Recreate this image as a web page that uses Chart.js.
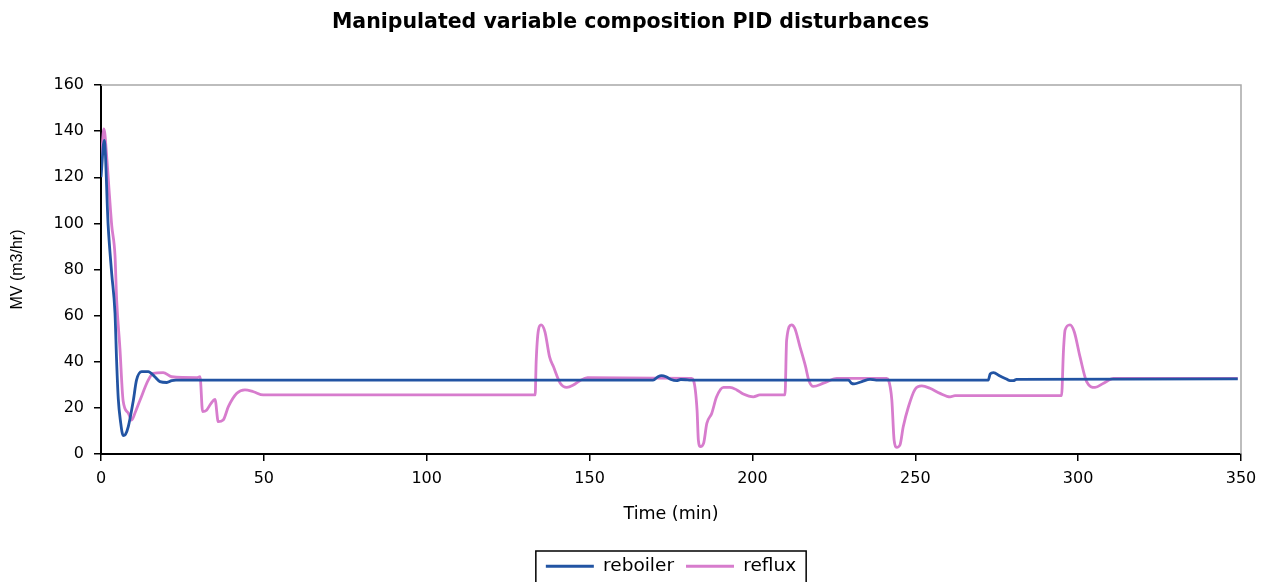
<!DOCTYPE html>
<html>
<head>
<meta charset="utf-8">
<title>Manipulated variable composition PID disturbances</title>
<script src="https://cdn.jsdelivr.net/npm/chart.js@4/dist/chart.umd.min.js"></script>
<style>
  html, body { margin: 0; padding: 0; background: #ffffff; }
  #wrap { width: 1273px; height: 582px; position: relative; }
</style>
</head>
<body>
<div id="wrap"><canvas id="chart" width="1273" height="582"></canvas></div>
<script>
// Time axis (min) and manipulated-variable values (m3/hr) for each controller output
const reboilerTime = [0, 1, 2.2, 3.3, 4.3, 4.8, 5.3, 6, 6.8, 7.5, 8.4, 9.9, 10.9, 12.5, 14.5, 16.5, 18.1, 20.2, 21.7, 23,
  169.5, 171, 172.1, 173.5, 175, 176.7, 178, 179.5, 181,
  229.5, 230.4, 231.2, 233.6, 236.1, 238,
  272.4, 273, 274, 276, 278, 279.1, 280.1, 281.1, 349];
const reboilerMV = [120, 136, 99, 78, 61, 40, 24, 14, 8, 8.5, 12, 23, 32, 35.7, 35.7, 33.5, 31.4, 31, 31.8, 32,
  32, 33.5, 34, 33.5, 32.3, 31.8, 32.3, 32.2, 32,
  32, 30.7, 30.4, 31.4, 32.4, 32,
  32, 34.7, 35.3, 33.8, 32.5, 31.8, 31.8, 32.4, 32.6];

const refluxTime = [0, 0.3, 0.9, 1.8, 2.6, 3.3, 4.3, 4.8, 5.8, 6.8, 8.4, 9.4, 10.5, 12, 14.5, 16, 19.1, 21.7, 29.4, 30.4,
  31.2, 32.4, 33.8, 35, 36, 37.5, 39.1, 41.7, 44.2, 46.8, 49.8,
  133.3, 133.6, 134.3, 135.1, 136.3, 137.7, 138.9, 141, 143, 145, 147, 149.4,
  181.3, 181.9, 183, 183.4, 184, 185, 186, 187.5, 189, 191.1, 193.1, 195.2, 197.2, 200.3, 202.3,
  210, 210.5, 212, 213, 214.6, 216.3, 217.3, 218.7, 221.8, 225.9,
  241.2, 241.8, 242.8, 243.5, 244.3, 245.3, 246.3, 247.9, 249.9, 252, 254.5, 257.6, 260.7, 262.2,
  294.9, 295.5, 296, 297.5, 298.8, 300.6, 302.6, 305.2, 307.8, 310.9, 349];
const refluxMV = [125, 132, 141, 128, 112, 99, 86, 67, 46, 23, 17.7, 14.7, 18, 23.4, 32, 35, 35.3, 33.5, 33.1, 33.5,
  18.4, 19, 22, 23.7, 14, 14.7, 20.5, 26.3, 27.8, 27, 25.6,
  25.6, 40, 53.8, 56, 53, 42.2, 37.9, 30.7, 28.9, 29.9, 31.8, 33.1,
  32.8, 32, 19, 6, 3.2, 4.6, 13.3, 17.6, 24.8, 28.9, 28.9, 27.8, 26, 24.8, 25.6,
  25.6, 49.4, 56, 54.5, 46.5, 38, 32, 29.3, 30.7, 32.8,
  32.8, 32, 23.4, 6, 2.9, 3.9, 11.8, 20.5, 28, 29.5, 28.5, 26.3, 24.8, 25.3,
  25.3, 45, 53.8, 56, 53, 42, 31.4, 28.9, 30.7, 32.8, 32.8];

const seriesNames = ['reboiler', 'reflux'];
const xTicks = [0, 50, 100, 150, 200, 250, 300, 350];
const yTicks = [0, 20, 40, 60, 80, 100, 120, 140, 160];

const toPoints = (ts, vs) => ts.map((t, i) => ({ x: t, y: vs[i] }));

const WIDE = "'DejaVu Sans', Verdana, sans-serif";
const NARROW = "'Liberation Sans', Arial, Helvetica, sans-serif";

// Grey top/right edges of the plot area and a box round the legend
const framePlugin = {
  id: 'frame',
  afterDraw(chart) {
    const { ctx, chartArea: a } = chart;
    ctx.save();
    ctx.strokeStyle = '#a8a8a8';
    ctx.lineWidth = 1.5;
    ctx.beginPath();
    ctx.moveTo(a.left, a.top);
    ctx.lineTo(a.right, a.top);
    ctx.lineTo(a.right, a.bottom);
    ctx.stroke();

    const boxes = chart.legend && chart.legend.legendHitBoxes;
    if (boxes && boxes.length) {
      let l = Infinity, r = -Infinity, t = Infinity;
      boxes.forEach(h => {
        l = Math.min(l, h.left); r = Math.max(r, h.left + h.width);
        t = Math.min(t, h.top);
      });
      ctx.strokeStyle = '#000000';
      ctx.lineWidth = 1.5;
      ctx.strokeRect(l - 10, t - 6, (r - l) + 20, 60);
    }
    ctx.restore();
  }
};

new Chart(document.getElementById('chart'), {
  type: 'line',
  data: {
    datasets: [
      {
        label: seriesNames[0],
        data: toPoints(reboilerTime, reboilerMV),
        borderColor: '#2254a3',
        backgroundColor: '#2254a3',
        borderWidth: 2.8,
        pointRadius: 0,
        cubicInterpolationMode: 'monotone',
        order: 1
      },
      {
        label: seriesNames[1],
        data: toPoints(refluxTime, refluxMV),
        borderColor: '#d77ccd',
        backgroundColor: '#d77ccd',
        borderWidth: 2.8,
        pointRadius: 0,
        cubicInterpolationMode: 'monotone',
        order: 2
      }
    ]
  },
  options: {
    responsive: false,
    animation: false,
    events: [],
    layout: { padding: { left: 20, right: 32, top: 0, bottom: -3.5 } },
    plugins: {
      title: {
        display: true,
        text: 'Manipulated variable composition PID disturbances',
        color: '#000000',
        font: { family: WIDE, size: 20.5, weight: 'bold' },
        padding: { top: 10, bottom: 50.4 }
      },
      legend: {
        display: true,
        position: 'bottom',
        fullSize: false,
        labels: {
          color: '#000000',
          font: { family: WIDE, size: 18.5 },
          usePointStyle: true,
          pointStyle: 'line',
          pointStyleWidth: 48,
          boxHeight: 18.5,
          padding: 12
        }
      },
      tooltip: { enabled: false }
    },
    scales: {
      x: {
        type: 'linear',
        min: 0,
        max: 350,
        afterBuildTicks: s => { s.ticks = xTicks.map(v => ({ value: v })); },
        afterFit: s => { s.height = 91; },
        border: { display: true, color: '#000000', width: 2 },
        grid: { display: true, drawOnChartArea: false, drawTicks: true, tickLength: 7, color: '#000000', lineWidth: 1.5 },
        ticks: { color: '#000000', font: { family: WIDE, size: 16 }, padding: 8.5, maxRotation: 0 },
        title: { display: true, text: 'Time (min)', color: '#000000', font: { family: WIDE, size: 17.5 }, padding: { top: 0, bottom: 20.5 } }
      },
      y: {
        type: 'linear',
        min: 0,
        max: 160,
        afterBuildTicks: s => { s.ticks = yTicks.map(v => ({ value: v })); },
        afterFit: s => { s.width = 81; },
        border: { display: true, color: '#000000', width: 2 },
        grid: { display: true, drawOnChartArea: false, drawTicks: true, tickLength: 7, color: '#000000', lineWidth: 1.5 },
        ticks: { color: '#000000', font: { family: WIDE, size: 16 }, padding: 10 },
        title: { display: true, text: 'MV (m3/hr)', color: '#000000', font: { family: NARROW, size: 16 }, padding: { top: -12, bottom: 0 } }
      }
    }
  },
  plugins: [framePlugin]
});
</script>
</body>
</html>
